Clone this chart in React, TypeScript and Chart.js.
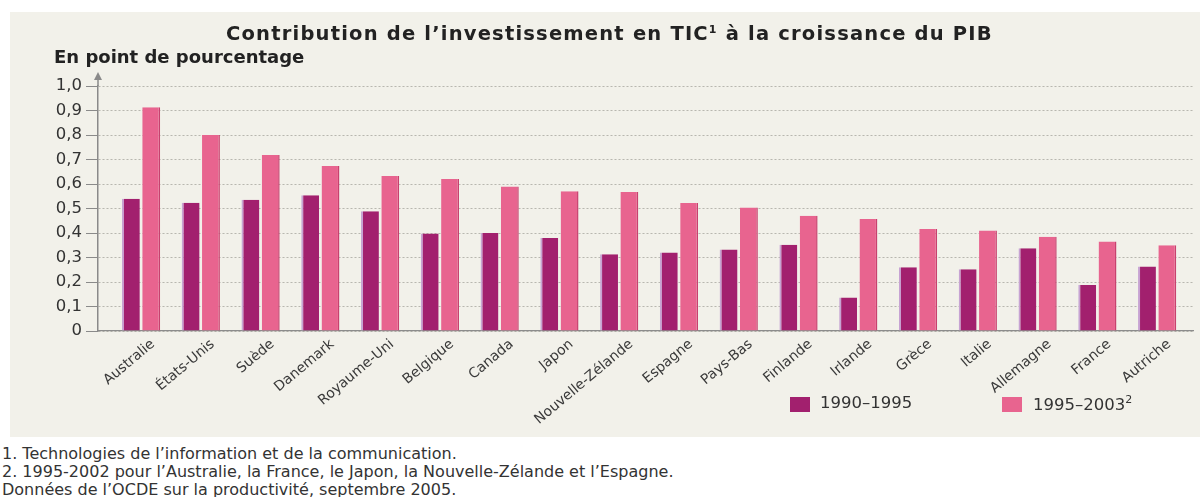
import React, { useEffect, useRef } from "react";
import { Chart, registerables } from "chart.js";

Chart.register(...registerables);

const categories = [
  "Australie", "États-Unis", "Suède", "Danemark", "Royaume-Uni", "Belgique",
  "Canada", "Japon", "Nouvelle-Zélande", "Espagne", "Pays-Bas", "Finlande",
  "Irlande", "Grèce", "Italie", "Allemagne", "France", "Autriche",
];
const series1990_1995 = [
  0.54, 0.523, 0.536, 0.554, 0.489, 0.398, 0.4, 0.38, 0.313,
  0.32, 0.333, 0.352, 0.137, 0.26, 0.252, 0.338, 0.188, 0.263,
];
const series1995_2003 = [
  0.913, 0.8, 0.718, 0.673, 0.633, 0.62, 0.59, 0.57, 0.567,
  0.522, 0.504, 0.47, 0.457, 0.416, 0.41, 0.385, 0.365, 0.35,
];
const yTickLabels = ["0", "0,1", "0,2", "0,3", "0,4", "0,5", "0,6", "0,7", "0,8", "0,9", "1,0"];
const seriesNames = ["1990–1995", "1995–2003"];

const DARK = "#a2206e";
const PINK = "#e8648f";
const FONT = "'DejaVu Sans', 'Noto Sans', sans-serif";

const arrowPlugin = {
  id: "axisArrow",
  afterDraw(chart: any) {
    const { ctx, chartArea } = chart;
    const x = chartArea.left;
    const top = chartArea.top;
    ctx.save();
    ctx.strokeStyle = "#8a8a8a";
    ctx.fillStyle = "#8a8a8a";
    ctx.lineWidth = 1.5;
    ctx.beginPath();
    ctx.moveTo(x, top);
    ctx.lineTo(x, top - 10);
    ctx.stroke();
    ctx.beginPath();
    ctx.moveTo(x, top - 14);
    ctx.lineTo(x - 4, top - 6);
    ctx.lineTo(x + 4, top - 6);
    ctx.closePath();
    ctx.fill();
    ctx.restore();
  },
};

export default function App() {
  const ref = useRef<HTMLCanvasElement>(null);

  useEffect(() => {
    document.body.style.margin = "0";
    const canvas = ref.current!;
    const chart = new Chart(canvas, {
      type: "bar",
      data: {
        datasets: [
          {
            label: seriesNames[0],
            data: series1990_1995.map((v, i) => ({ x: i, y: v })),
            backgroundColor: DARK,
            borderColor: "#c7a3d3",
            borderWidth: { left: 2, right: 0, top: 0, bottom: 0 },
            borderSkipped: false,
          },
          {
            label: seriesNames[1],
            data: series1995_2003.map((v, i) => ({ x: i, y: v })),
            backgroundColor: PINK,
            borderColor: "#c8416f",
            borderWidth: { left: 0, right: 1.5, top: 0, bottom: 0 },
            borderSkipped: false,
          },
        ],
      },
      options: {
        animation: false,
        responsive: false,
        maintainAspectRatio: false,
        categoryPercentage: 0.68,
        barPercentage: 0.88,
        layout: { padding: { top: 86, right: 7, left: 0, bottom: 0 } },
        plugins: {
          legend: { display: false },
          title: { display: false },
          tooltip: { enabled: false },
        },
        scales: {
          x: {
            type: "linear",
            min: -0.72,
            max: 17.6,
            offset: false,
            afterBuildTicks: (scale: any) => {
              scale.ticks = categories.map((_, i) => ({ value: i }));
            },
            afterFit: (scale: any) => {
              scale.height = 109;
            },
            grid: { display: false, drawTicks: false },
            border: { display: true, color: "#8c8c8c", width: 1.2 },
            ticks: {
              autoSkip: false,
              minRotation: 40,
              maxRotation: 40,
              padding: 5,
              labelOffset: 12,
              color: "#3a3a3a",
              font: { family: FONT, size: 14 },
              callback: (v: any) => {
                const i = Math.round(Number(v));
                return Math.abs(Number(v) - i) < 1e-6 ? categories[i] ?? "" : "";
              },
            },
          },
          y: {
            min: 0,
            max: 1,
            afterBuildTicks: (scale: any) => {
              scale.ticks = yTickLabels.map((_, i) => ({ value: i / 10 }));
            },
            afterFit: (scale: any) => {
              scale.width = 98;
            },
            grid: {
              color: "rgba(125,125,115,0.5)",
              lineWidth: 1,
              tickLength: 12,
              tickColor: "#8a8a8a",
              tickBorderDash: [100, 0],
            },
            border: { display: true, color: "#8a8a8a", width: 1.5, dash: [2, 2] },
            ticks: {
              padding: 4,
              color: "#333",
              font: { family: FONT, size: 16.5 },
              callback: (v: any) => yTickLabels[Math.round(Number(v) * 10)] ?? "",
            },
          },
        },
      },
      plugins: [arrowPlugin],
    });
    return () => chart.destroy();
  }, []);

  const sq = (c: string, left: number): React.CSSProperties => ({
    position: "absolute", left, top: 397, width: 20, height: 15, background: c,
  });
  const txt = (left: number): React.CSSProperties => ({
    position: "absolute", left, top: 393, fontFamily: FONT, fontSize: 16.5, color: "#333", whiteSpace: "nowrap",
  });
  const foot = (top: number): React.CSSProperties => ({
    position: "absolute", left: 2, top, fontFamily: FONT, fontSize: 16, lineHeight: "18px", color: "#333", whiteSpace: "nowrap",
  });

  return (
    <div style={{ position: "fixed", left: 0, top: 0, width: 1200, height: 497, background: "#fff", overflow: "hidden" }}>
      <div style={{ position: "absolute", left: 10, top: 12, width: 1190, height: 425, background: "#f2f1ea" }} />
      <canvas ref={ref} width={1200} height={440} style={{ position: "absolute", left: 0, top: 0, width: 1200, height: 440 }} />
      <div style={{ position: "absolute", left: 226, top: 22, fontFamily: FONT, fontWeight: 700, fontSize: 19.5, letterSpacing: 1.2, color: "#222", whiteSpace: "nowrap" }}>
        Contribution de l’investissement en TIC<sup style={{ fontSize: 11 }}>1</sup> à la croissance du PIB
      </div>
      <div style={{ position: "absolute", left: 54, top: 46, fontFamily: FONT, fontWeight: 700, fontSize: 18, color: "#222", whiteSpace: "nowrap" }}>
        En point de pourcentage
      </div>
      <div style={sq(DARK, 790)} />
      <div style={txt(820)}>{seriesNames[0]}</div>
      <div style={sq(PINK, 1002)} />
      <div style={txt(1033)}>
        {seriesNames[1]}<sup style={{ fontSize: 11 }}>2</sup>
      </div>
      <div style={foot(445)}>1. Technologies de l’information et de la communication.</div>
      <div style={foot(463)}>2. 1995-2002 pour l’Australie, la France, le Japon, la Nouvelle-Zélande et l’Espagne.</div>
      <div style={foot(481)}>Données de l’OCDE sur la productivité, septembre 2005.</div>
    </div>
  );
}
